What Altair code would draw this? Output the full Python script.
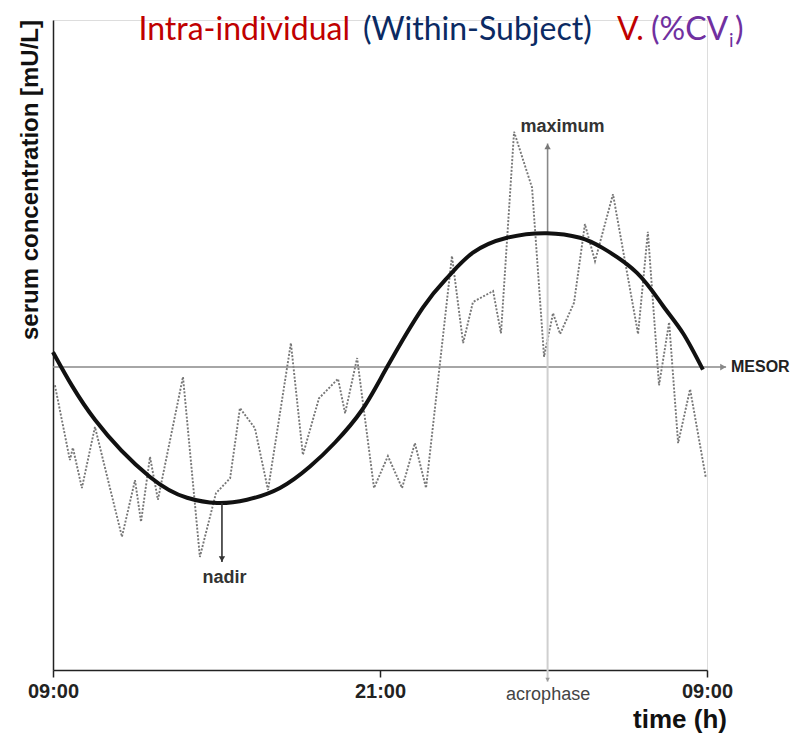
import altair as alt
import pandas as pd

# ---- data (hours after 09:00, concentration in arbitrary units) ----
obs_hours = [0.07, 0.62, 0.73, 1.06, 1.54, 2.53, 3.01, 3.23, 3.56, 3.85,
             4.77, 5.39, 5.98, 6.50, 6.86, 7.41, 7.89, 8.73, 9.17, 9.76,
             10.46, 10.72, 11.16, 11.78, 12.29, 12.81, 13.28, 13.69, 14.64, 15.05,
             15.41, 16.15, 16.44, 16.92, 17.58, 18.02, 18.35, 18.61, 19.12, 19.52,
             19.89, 20.55, 21.47, 21.83, 22.24, 22.61, 22.94, 23.38, 23.96]
obs_values = [43.8, 32.3, 34.2, 28.0, 37.4, 20.5, 29.2, 22.8, 32.8, 26.2,
              45.1, 17.4, 27.2, 29.5, 40.3, 37.2, 27.7, 50.3, 33.1, 41.8,
              44.8, 39.5, 48.0, 28.0, 32.9, 28.0, 34.9, 28.0, 63.7, 50.3,
              56.6, 58.3, 51.8, 82.8, 74.2, 48.2, 54.9, 51.7, 56.5, 68.6,
              62.9, 73.2, 51.7, 67.4, 43.8, 53.5, 34.9, 43.2, 29.5]

fit_hours = [0.0, 1.54, 3.56, 4.92, 6.02, 7.12, 8.33, 9.43, 10.35, 11.34, 12.26,
             13.58, 14.50, 15.41, 16.66, 18.13, 19.34, 20.18, 21.43, 22.39, 23.12, 23.85]
fit_values = [48.9, 38.5, 29.7, 26.5, 25.7, 26.2, 28.0, 31.3, 35.0, 40.0, 46.6,
              55.8, 60.5, 64.2, 66.5, 67.2, 66.5, 64.9, 61.1, 56.0, 51.8, 46.2]

mesor_value = 46.6
mesor_end_h = 24.70
acrophase_h = 18.15
peak_value = 67.2
max_arrow_top = 81.0
acro_tip = -1.8
nadir_h = 6.2
nadir_value = 25.7
nadir_tip = 16.6

tick_hours = [0, 12, 24]
tick_labels = ["09:00", "21:00", "09:00"]

title_parts = ["Intra-individual", "(Within-Subject)", "V.", "(%CV", "i", ")"]
title_colors = ["#C00000", "#0B2A63", "#C00000", "#7030A0", "#7030A0", "#7030A0"]

# ---- scales / axes ----
label_expr = "'" + tick_labels[-1] + "'"
for hv, lab in zip(tick_hours[:-1], tick_labels[:-1]):
    label_expr = f"datum.value == {hv} ? '{lab}' : ({label_expr})"

xs = alt.Scale(domain=[0, 24], nice=False, zero=False)
ys = alt.Scale(domain=[0, 100], nice=False, zero=False)
xaxis = alt.Axis(values=tick_hours, labelExpr=label_expr, title=None, grid=False,
                 domainColor="#222", domainWidth=1.5, tickColor="#222", tickWidth=1.5,
                 tickSize=7, labelFont="Liberation Sans", labelFontSize=20,
                 labelFontWeight="bold", labelColor="#222", labelPadding=4,
                 labelFlush=False, labelOverlap=False)
yaxis = alt.Axis(title=None, grid=False, ticks=False, labels=False,
                 domainColor="#222", domainWidth=1.5)


def X(f="h"):
    return alt.X(f + ":Q", scale=xs, axis=xaxis)


def Y(f="v"):
    return alt.Y(f + ":Q", scale=ys, axis=yaxis)


obs_df = pd.DataFrame({"h": obs_hours, "v": obs_values})
fit_df = pd.DataFrame({"h": fit_hours, "v": fit_values})

layers = []

# noisy observations
layers.append(alt.Chart(obs_df).mark_line(color="#777", strokeWidth=1.9, strokeDash=[2, 1.6])
              .encode(x=X(), y=Y()))

# MESOR line + arrow
layers.append(alt.Chart(pd.DataFrame({"h": [0], "h2": [mesor_end_h], "v": [mesor_value]}))
              .mark_rule(color="#888", strokeWidth=1.5)
              .encode(x=X(), x2="h2", y=Y()))
layers.append(alt.Chart(pd.DataFrame({"h": [mesor_end_h], "v": [mesor_value]}))
              .mark_point(shape="triangle-right", filled=True, size=45, color="#888", opacity=1, xOffset=-3)
              .encode(x=X(), y=Y()))

# acrophase vertical line (light below curve, darker above)
layers.append(alt.Chart(pd.DataFrame({"h": [acrophase_h], "v": [acro_tip], "v2": [peak_value]}))
              .mark_rule(color="#cfcfcf", strokeWidth=2)
              .encode(x=X(), y=Y(), y2="v2"))
layers.append(alt.Chart(pd.DataFrame({"h": [acrophase_h], "v": [peak_value], "v2": [max_arrow_top]}))
              .mark_rule(color="#888", strokeWidth=1.6)
              .encode(x=X(), y=Y(), y2="v2"))
layers.append(alt.Chart(pd.DataFrame({"h": [acrophase_h], "v": [max_arrow_top]}))
              .mark_point(shape="triangle-up", filled=True, size=40, color="#777", opacity=1, yOffset=3)
              .encode(x=X(), y=Y()))
layers.append(alt.Chart(pd.DataFrame({"h": [acrophase_h], "v": [acro_tip]}))
              .mark_point(shape="triangle-down", filled=True, size=20, color="#999", opacity=1, yOffset=-2)
              .encode(x=X(), y=Y()))

# fitted cosine curve
layers.append(alt.Chart(fit_df).mark_line(color="#111", strokeWidth=4, interpolate="natural")
              .encode(x=X(), y=Y()))

# nadir arrow
layers.append(alt.Chart(pd.DataFrame({"h": [nadir_h], "v": [nadir_tip], "v2": [nadir_value]}))
              .mark_rule(color="#333", strokeWidth=1.6)
              .encode(x=X(), y=Y(), y2="v2"))
layers.append(alt.Chart(pd.DataFrame({"h": [nadir_h], "v": [nadir_tip]}))
              .mark_point(shape="triangle-down", filled=True, size=40, color="#333", opacity=1, yOffset=-3)
              .encode(x=X(), y=Y()))

# annotations
ann = [
    ("maximum", 18.70, 83.5, "center", "bold", "#333", 18),
    ("nadir", 6.29, 14.15, "center", "bold", "#333", 18),
    ("MESOR", 24.88, 46.6, "left", "bold", "#222", 16),
    ("acrophase", 18.17, -3.9, "center", "normal", "#444", 18),
]
for txt, hx, vy, al, fw, col, fs in ann:
    layers.append(alt.Chart(pd.DataFrame({"h": [hx], "v": [vy], "t": [txt]}))
                  .mark_text(font="Liberation Sans", fontSize=fs, fontWeight=fw, color=col,
                             align=al, baseline="middle")
                  .encode(x=X(), y=Y(), text="t:N"))

# axis titles as text
layers.append(alt.Chart(pd.DataFrame({"t": ["serum concentration [mU/L]"]}))
              .mark_text(font="Liberation Sans", fontSize=24, fontWeight="bold", color="#111",
                         angle=270, align="center", baseline="middle")
              .encode(x=alt.value(-22), y=alt.value(160), text="t:N"))
layers.append(alt.Chart(pd.DataFrame({"t": ["time (h)"]}))
              .mark_text(font="Liberation Sans", fontSize=26, fontWeight="bold", color="#111",
                         align="center", baseline="middle")
              .encode(x=alt.value(627), y=alt.value(700), text="t:N"))

# multi-colour title
title_x = [297, 310, 564, 598, 676, 682]
title_y = [20, 20, 20, 20, 27, 20]
title_align = ["right", "left", "left", "left", "left", "left"]
title_size = [32, 32, 32, 32, 19, 32]
for txt, col, px, py, al, fs in zip(title_parts, title_colors, title_x, title_y, title_align, title_size):
    layers.append(alt.Chart(pd.DataFrame({"t": [txt]}))
                  .mark_text(font="Lato", fontSize=fs, color=col, align=al, baseline="alphabetic")
                  .encode(x=alt.value(px), y=alt.value(py), text="t:N"))

chart = (alt.layer(*layers)
         .properties(width=654, height=650, autosize="none",
                     padding={"left": 45, "top": 12, "right": 83, "bottom": 68})
         .configure_view(strokeWidth=0)
         .configure(background="white"))

chart.save("out.html", embed_options={"renderer": "svg", "actions": False})
